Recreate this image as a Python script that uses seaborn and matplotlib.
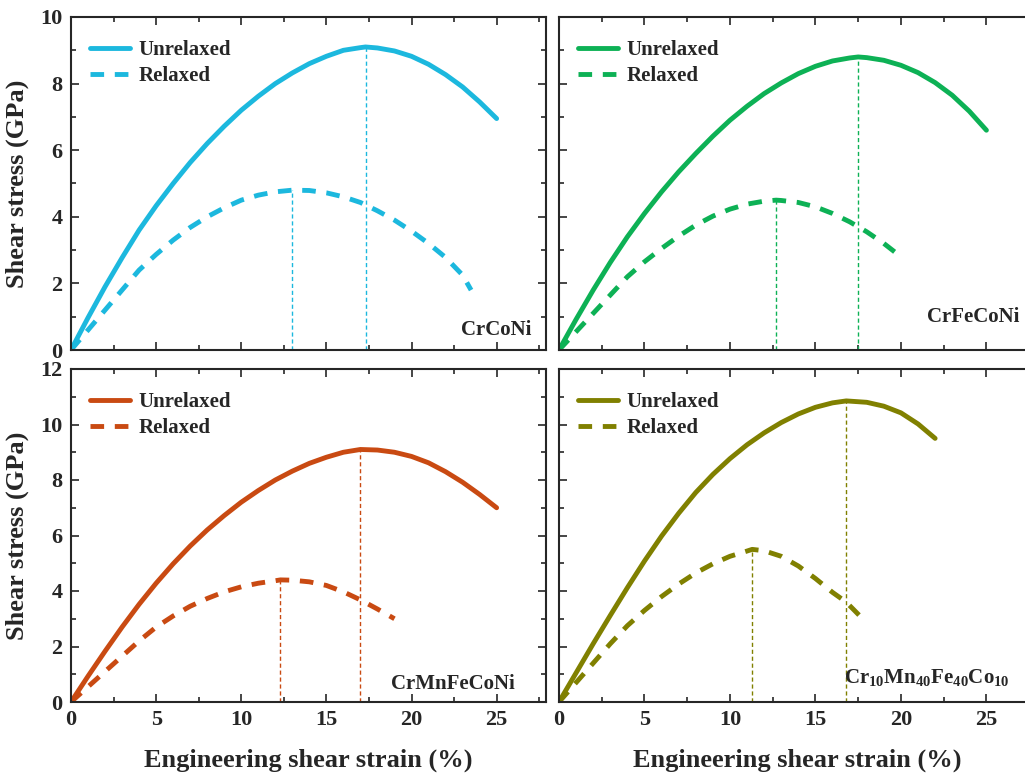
import numpy as np
import pandas as pd
import matplotlib
matplotlib.use('Agg')
import matplotlib.pyplot as plt
from matplotlib.ticker import MultipleLocator
import seaborn as sns

sns.set_style('ticks')
plt.rcParams['font.family'] = ['Liberation Serif', 'DejaVu Serif']
plt.rcParams['font.weight'] = 'bold'
plt.rcParams['mathtext.fontset'] = 'custom'
plt.rcParams['mathtext.rm'] = 'Liberation Serif:bold'
plt.rcParams['mathtext.bf'] = 'Liberation Serif:bold'

# ---- data (strain %, shear stress GPa) ----
# CrCoNi
crconi_un_x = [0, 1, 2, 3, 4, 5, 6, 7, 8, 9, 10, 11, 12, 13, 14, 15, 16, 17, 17.3,
               18, 19, 20, 21, 22, 23, 24, 25]
crconi_un_y = [0, 0.97, 1.9, 2.77, 3.6, 4.33, 5.0, 5.63, 6.2, 6.72, 7.2, 7.62, 8.0,
               8.32, 8.6, 8.82, 9.0, 9.08, 9.1, 9.07, 8.98, 8.82, 8.58, 8.27, 7.9, 7.45, 6.95]
crconi_re_x = [0, 1, 2, 3, 4, 5, 6, 7, 8, 9, 10, 11, 12, 13, 14, 15, 16, 17, 18, 19,
               20, 21, 22, 23, 23.5]
crconi_re_y = [0, 0.6, 1.2, 1.8, 2.4, 2.87, 3.3, 3.68, 4.0, 4.27, 4.5, 4.65, 4.75, 4.8,
               4.79, 4.72, 4.6, 4.43, 4.18, 3.9, 3.57, 3.2, 2.78, 2.25, 1.8]
crconi_peaks = [17.3, 13.0]

# CrFeCoNi
crfeconi_un_x = [0, 1, 2, 3, 4, 5, 6, 7, 8, 9, 10, 11, 12, 13, 14, 15, 16, 17, 17.5,
                 18, 19, 20, 21, 22, 23, 24, 25]
crfeconi_un_y = [0, 0.92, 1.8, 2.63, 3.4, 4.1, 4.75, 5.35, 5.9, 6.42, 6.9, 7.32, 7.7,
                 8.02, 8.3, 8.52, 8.68, 8.77, 8.8, 8.78, 8.7, 8.55, 8.33, 8.03, 7.65, 7.17, 6.6]
crfeconi_re_x = [0, 1, 2, 3, 4, 5, 6, 7, 8, 9, 10, 11, 12, 12.7, 13, 14, 15, 16, 17,
                 18, 19, 20]
crfeconi_re_y = [0, 0.55, 1.1, 1.65, 2.2, 2.65, 3.05, 3.42, 3.75, 4.02, 4.23, 4.38,
                 4.47, 4.5, 4.49, 4.43, 4.3, 4.1, 3.85, 3.55, 3.2, 2.8]
crfeconi_peaks = [17.5, 12.7]

# CrMnFeCoNi
crmnfeconi_un_x = [0, 1, 2, 3, 4, 5, 6, 7, 8, 9, 10, 11, 12, 13, 14, 15, 16, 17,
                   18, 19, 20, 21, 22, 23, 24, 25]
crmnfeconi_un_y = [0, 0.93, 1.83, 2.7, 3.52, 4.28, 4.98, 5.62, 6.2, 6.72, 7.2, 7.62,
                   8.0, 8.32, 8.6, 8.82, 9.0, 9.1, 9.08, 9.0, 8.85, 8.62, 8.3, 7.92, 7.48, 7.0]
crmnfeconi_re_x = [0, 1, 2, 3, 4, 5, 6, 7, 8, 9, 10, 11, 12, 12.3, 13, 14, 15, 16,
                   17, 18, 19]
crmnfeconi_re_y = [0, 0.55, 1.1, 1.65, 2.2, 2.7, 3.1, 3.45, 3.73, 3.97, 4.15, 4.28,
                   4.37, 4.4, 4.39, 4.33, 4.2, 3.97, 3.68, 3.35, 3.0]
crmnfeconi_peaks = [17.0, 12.3]

# Cr10Mn40Fe40Co10
cr10_un_x = [0, 1, 2, 3, 4, 5, 6, 7, 8, 9, 10, 11, 12, 13, 14, 15, 16, 16.8,
             18, 19, 20, 21, 22]
cr10_un_y = [0, 1.05, 2.1, 3.12, 4.12, 5.08, 5.98, 6.8, 7.55, 8.2, 8.77, 9.27, 9.7,
             10.07, 10.38, 10.62, 10.78, 10.85, 10.8, 10.66, 10.42, 10.02, 9.5]
cr10_re_x = [0, 1, 2, 3, 4, 5, 6, 7, 8, 9, 10, 11, 11.3, 12, 13, 14, 15, 16, 16.8, 17.6]
cr10_re_y = [0, 0.7, 1.4, 2.1, 2.75, 3.3, 3.8, 4.25, 4.65, 4.98, 5.25, 5.44, 5.5,
             5.45, 5.25, 4.9, 4.45, 3.95, 3.6, 3.1]
cr10_peaks = [16.8, 11.3]

panels = [
    ('CrCoNi', '#1CB8DE', crconi_un_x, crconi_un_y, crconi_re_x, crconi_re_y, crconi_peaks, 10),
    ('CrFeCoNi', '#0DB155', crfeconi_un_x, crfeconi_un_y, crfeconi_re_x, crfeconi_re_y, crfeconi_peaks, 10),
    ('CrMnFeCoNi', '#C94A12', crmnfeconi_un_x, crmnfeconi_un_y, crmnfeconi_re_x, crmnfeconi_re_y, crmnfeconi_peaks, 12),
    (r'Cr$_{10}$Mn$_{40}$Fe$_{40}$Co$_{10}$', '#808000', cr10_un_x, cr10_un_y, cr10_re_x, cr10_re_y, cr10_peaks, 12),
]

fig = plt.figure(figsize=(10.25, 7.74), dpi=100)
W, H = 1025.0, 774.0
# axes boxes in pixels (left, top, right, bottom); right column runs past the edge
boxes = [(71, 17, 546, 350), (559, 17, 1036, 350),
         (71, 369, 546, 702), (559, 369, 1036, 702)]
label_pos = [(0.97, 0.03), (0.965, 0.07), (0.935, 0.025), (0.945, 0.04)]

for i, (name, color, ux, uy, rx, ry, peaks, ymax) in enumerate(panels):
    x0, y0, x1, y1 = boxes[i]
    ax = fig.add_axes([x0 / W, 1 - y1 / H, (x1 - x0) / W, (y1 - y0) / H])
    df_un = pd.DataFrame({'strain': ux, 'stress': uy})
    df_re = pd.DataFrame({'strain': rx, 'stress': ry})
    sns.lineplot(data=df_un, x='strain', y='stress', ax=ax, color=color, lw=3.5,
                 label='Unrelaxed')
    sns.lineplot(data=df_re, x='strain', y='stress', ax=ax, color=color, lw=3.5,
                 label='Relaxed')
    ax.lines[-1].set_dashes([2.8, 2.2])
    # thin dashed drop lines from the peaks
    ax.vlines(peaks[0], 0, max(uy), color=color, lw=1, ls=(0, (3, 2)))
    ax.vlines(peaks[1], 0, max(ry), color=color, lw=1, ls=(0, (3, 2)))

    ax.set_xlim(0, 27.9)
    ax.set_ylim(0, ymax)
    ax.xaxis.set_major_locator(MultipleLocator(5))
    ax.xaxis.set_minor_locator(MultipleLocator(2.5))
    ax.yaxis.set_major_locator(MultipleLocator(2))
    ax.yaxis.set_minor_locator(MultipleLocator(1))
    ax.tick_params(which='both', direction='in', top=True, right=True, width=1.2,
                   labelsize=16, pad=6)
    ax.tick_params(which='major', length=6)
    ax.tick_params(which='minor', length=3.5)
    for s in ax.spines.values():
        s.set_linewidth(1.5)
    for lab in ax.get_xticklabels() + ax.get_yticklabels():
        lab.set_fontweight('bold')

    if i < 2:
        ax.set_xticklabels([])
        ax.set_xlabel('')
    else:
        ax.set_xlabel('Engineering shear strain (%)', fontsize=19, fontweight='bold',
                      labelpad=13)
    if i % 2 == 1:
        ax.set_yticklabels([])
        ax.set_ylabel('')
    else:
        ax.set_ylabel('Shear stress (GPa)', fontsize=19, fontweight='bold', labelpad=8)

    ax.legend(loc='upper left', frameon=False, handlelength=1.9, handletextpad=0.4,
              borderaxespad=0.3, prop={'size': 15, 'weight': 'bold'},
              bbox_to_anchor=(0.01, 0.975), labelspacing=0.3)
    lx, ly = label_pos[i]
    ax.text(lx, ly, name, transform=ax.transAxes, ha='right', va='bottom',
            fontsize=15, fontweight='bold')

fig.savefig('out.png', dpi=100)
